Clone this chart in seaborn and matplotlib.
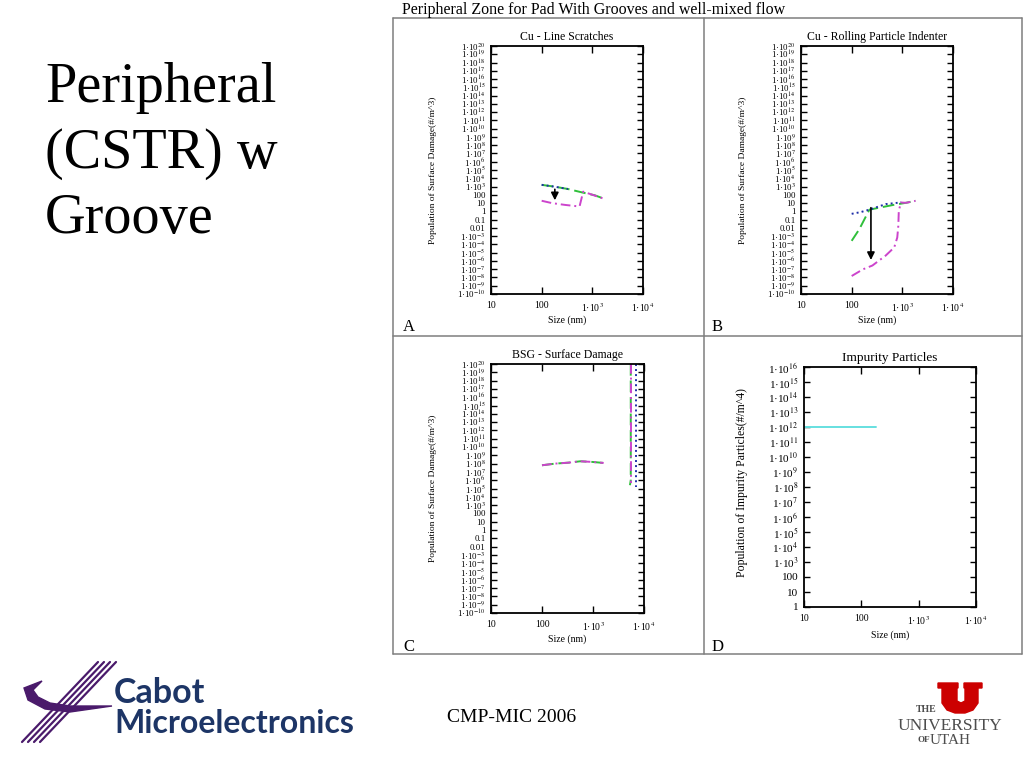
import pandas as pd
import matplotlib.pyplot as plt
import seaborn as sns
from matplotlib.lines import Line2D
from matplotlib.patches import Polygon

W, H = 1024, 768

# Panel A - Cu line scratches
a_green_x = [100, 182, 331, 660, 1120, 1740]
a_green_y = [1600, 950, 500, 180, 87, 32]
a_blue_x = [100, 182, 331]
a_blue_y = [1600, 950, 500]
a_magenta_x = [100, 158, 288, 525, 560, 660, 1120, 1740]
a_magenta_y = [19, 10, 6, 4, 4, 240, 80, 32]
a_arrow_x = 182
a_arrow_y = [1000, 10]

# Panel B - Cu rolling particle indenter
b_green_x = [100, 141, 224, 324, 631, 1175, 1820]
b_green_y = [2.7e-4, 6.6e-3, 1.6, 2.5, 5.6, 10.7, 18.6]
b_blue_x = [100, 150, 224, 470, 950]
b_blue_y = [0.5, 0.8, 1.6, 7.5, 12]
b_magenta_x = [100, 166, 257, 468, 692, 794, 832, 851, 933, 1175, 1820]
b_magenta_y = [1.5e-8, 9.5e-8, 2.8e-7, 4.4e-6, 4.3e-5, 6.8e-4, 1.6e-2, 1.0, 11.7, 10.7, 18.6]
b_arrow_x = 240
b_arrow_y = [6, 6e-7]

# Panel C - BSG surface damage
c_green_x = [100, 182, 331, 562, 955, 1620]
c_green_y = [6.3e7, 1.0e8, 1.3e8, 1.9e8, 1.6e8, 1.2e8]
c_magenta_x = [100, 182, 331, 562, 955, 1620]
c_magenta_y = [6.3e7, 1.0e8, 1.3e8, 1.9e8, 1.6e8, 1.2e8]
c_green_edge_x = [5500, 5500, 5300]
c_green_edge_y = [1e20, 1e6, 2.5e5]
c_magenta_edge_x = [5650, 5650]
c_magenta_edge_y = [1e20, 5e5]
c_blue_edge_x = [7000, 7000]
c_blue_edge_y = [1e20, 1.6e5]

# Panel D - impurity particles
d_cyan_x = [10, 30, 100, 177]
d_cyan_y = [1e12, 1e12, 1e12, 1e12]

# axis ticks
damage_exps = list(range(-10, 21))
damage_small = {2: "100", 1: "10", 0: "1", -1: "0.1", -2: "0.01"}
impurity_exps = list(range(0, 17))
impurity_small = {0: "1", 1: "10", 2: "100"}
size_ticks = [10, 100, 1000, 10000]
size_labels = ["10", "100", "1·10$^{3}$", "1·10$^{4}$"]

palette = {"green": "#2fbf3a", "blue": "#1f2fa8", "magenta": "#cc44cc",
           "green2": "#2fbf3a", "magenta2": "#cc44cc", "blue2": "#1f2fa8",
           "cyan": "#66e0e0"}
dashes = {"green": (6, 2.5), "blue": (1, 1.6), "magenta": (5, 2, 1, 2),
          "green2": (6, 2.5), "blue2": (1, 1.6), "magenta2": (5, 2, 1, 2),
          "cyan": ""}


def px(x, y):
    return x / W, 1 - y / H


def exp_label(e, small):
    if e in small:
        return small[e]
    return "1·10$^{%d}$" % e


def draw_panel(ax, series, title, ylabel, exps, small, ysize, title_size):
    ax.set_xscale("log")
    ax.set_yscale("log")
    rows = []
    for name, xs, ys in series:
        for i, (x, y) in enumerate(zip(xs, ys)):
            rows.append({"series": name, "order": i, "size": x, "pop": y})
    df = pd.DataFrame(rows)
    used = list(dict.fromkeys(df["series"]))
    sns.lineplot(data=df, x="size", y="pop", hue="series", style="series",
                 hue_order=used, style_order=used,
                 palette={k: palette[k] for k in used},
                 dashes={k: dashes[k] for k in used},
                 estimator=None, sort=False, legend=False, lw=1.4, ax=ax)
    ax.set_xlim(10, 10000)
    ax.set_ylim(10.0 ** exps[0], 10.0 ** exps[-1])
    ax.set_xticks(size_ticks, size_labels)
    ax.set_yticks([10.0 ** e for e in exps], [exp_label(e, small) for e in exps])
    ax.minorticks_off()
    ax.tick_params(axis="y", direction="in", length=4, width=1, left=True,
                   right=True, labelsize=ysize, pad=4)
    ax.tick_params(axis="x", direction="in", length=5, width=1, bottom=True,
                   top=True, labelsize=7, pad=5)
    for s in ax.spines.values():
        s.set_linewidth(1.3)
        s.set_color("black")
    ax.set_title(title, fontsize=title_size, pad=4)
    ax.set_xlabel("Size (nm)", fontsize=7, labelpad=-1)
    ax.set_ylabel(ylabel, fontsize=ysize + 0.5)


sns.set_style("white")
plt.rcParams["font.family"] = ["Liberation Serif", "DejaVu Serif"]
plt.rcParams["mathtext.fontset"] = "stix"
for key in ["text.color", "axes.labelcolor", "xtick.color", "ytick.color"]:
    plt.rcParams[key] = "black"

fig = plt.figure(figsize=(10.24, 7.68), dpi=100)

ax_a = fig.add_axes([491 / W, 1 - 294 / H, 152 / W, 248 / H])
ax_b = fig.add_axes([801 / W, 1 - 294 / H, 152 / W, 248 / H])
ax_c = fig.add_axes([491 / W, 1 - 613 / H, 153 / W, 249 / H])
ax_d = fig.add_axes([804 / W, 1 - 607 / H, 172 / W, 240 / H])

dmg_label = "Population of Surface Damage(#/m^3)"
draw_panel(ax_a, [("green", a_green_x, a_green_y), ("blue", a_blue_x, a_blue_y),
                  ("magenta", a_magenta_x, a_magenta_y)],
           "Cu - Line Scratches", dmg_label, damage_exps, damage_small, 6.3, 8.5)
draw_panel(ax_b, [("green", b_green_x, b_green_y), ("blue", b_blue_x, b_blue_y),
                  ("magenta", b_magenta_x, b_magenta_y)],
           "Cu - Rolling Particle Indenter", dmg_label, damage_exps, damage_small, 6.3, 8.5)
draw_panel(ax_c, [("green", c_green_x, c_green_y), ("magenta", c_magenta_x, c_magenta_y),
                  ("green2", c_green_edge_x, c_green_edge_y),
                  ("magenta2", c_magenta_edge_x, c_magenta_edge_y),
                  ("blue2", c_blue_edge_x, c_blue_edge_y)],
           "BSG - Surface Damage", dmg_label, damage_exps, damage_small, 6.3, 8.5)
draw_panel(ax_d, [("cyan", d_cyan_x, d_cyan_y)],
           "Impurity Particles", "Population of Impurity Particles(#/m^4)",
           impurity_exps, impurity_small, 8, 9.5)

for ax in (ax_a, ax_b, ax_c):
    ax.yaxis.set_label_coords(-0.355, 0.5)
    ax.xaxis.set_label_coords(0.5, -0.085)
ax_d.yaxis.set_label_coords(-0.326, 0.52)
ax_d.xaxis.set_label_coords(0.5, -0.096)

arrow_style = dict(arrowstyle="-|>", color="black", lw=1.2, mutation_scale=11)
ax_a.annotate("", xy=(a_arrow_x, a_arrow_y[1]), xytext=(a_arrow_x, a_arrow_y[0]),
              arrowprops=arrow_style)
ax_b.annotate("", xy=(b_arrow_x, b_arrow_y[1]), xytext=(b_arrow_x, b_arrow_y[0]),
              arrowprops=arrow_style)

# frame around the four panels
frame = [((393, 18), (1022, 18)), ((393, 654), (1022, 654)),
         ((393, 18), (393, 654)), ((1022, 18), (1022, 654)),
         ((704, 18), (704, 654)), ((393, 336), (1022, 336))]
for p0, p1 in frame:
    (x0, y0), (x1, y1) = px(*p0), px(*p1)
    fig.add_artist(Line2D([x0, x1], [y0, y1], color="#7f7f7f", lw=1.1,
                          transform=fig.transFigure))

for letter, (lx, ly) in zip("ABCD", [(403, 331), (712, 331), (403, 651), (712, 651)]):
    fig.text(*px(lx, ly), letter, fontsize=12, va="baseline", ha="left")

fig.text(*px(402, 10), "Peripheral Zone for Pad With Grooves and well-mixed flow",
         fontsize=11.5, va="center", ha="left")

for line, base in zip(["Peripheral", "(CSTR) w", "Groove"], [102, 168, 233]):
    fig.text(*px(45, base), line, fontsize=40.5, va="baseline", ha="left")

fig.text(*px(447, 718), "CMP-MIC 2006", fontsize=14, va="center", ha="left")

# Cabot Microelectronics logo
navy = "#1d3566"
purple = "#4a1a6b"
fig.text(*px(114, 703), "Cabot", fontsize=24.5, family="Lato", fontweight="bold",
         color=navy, va="baseline", ha="left")
fig.text(*px(114, 733), "Microelectronics", fontsize=23, family="Lato",
         fontweight="bold", color=navy, va="baseline", ha="left")
for dx in [0, 6, 12, 18]:
    (x0, y0), (x1, y1) = px(22 + dx, 742), px(98 + dx, 662)
    fig.add_artist(Line2D([x0, x1], [y0, y1], color=purple, lw=1.6,
                          transform=fig.transFigure))
swoosh = [(24, 688), (28, 700), (45, 709), (70, 712), (112, 706), (70, 706),
          (50, 703), (38, 697), (33, 690), (42, 681)]
fig.add_artist(Polygon([px(*p) for p in swoosh], closed=True, color=purple,
                       transform=fig.transFigure))

# University of Utah logo
u_shape = [(938, 683), (958, 683), (958, 688), (957, 688), (957, 701), (961, 703),
           (965, 701), (965, 688), (964, 688), (964, 683), (982, 683), (982, 688),
           (978, 688), (978, 703), (973, 710), (965, 713), (955, 713), (947, 710),
           (942, 703), (942, 688), (938, 688)]
fig.add_artist(Polygon([px(*p) for p in u_shape], closed=True, color="#cc0000",
                       transform=fig.transFigure))
grey = "#4d4d4d"
fig.text(*px(916, 710), "THE", fontsize=7, color=grey, fontweight="bold",
         va="center", ha="left")
fig.text(*px(949.5, 726), "UNIVERSITY", fontsize=12.5, color=grey,
         va="center", ha="center")
fig.text(*px(917, 740), "OF", fontsize=6.5, color=grey, fontweight="bold",
         va="center", ha="left")
fig.text(*px(930, 740), "UTAH", fontsize=11, color=grey, va="center", ha="left")

fig.savefig("out.png", dpi=100)
